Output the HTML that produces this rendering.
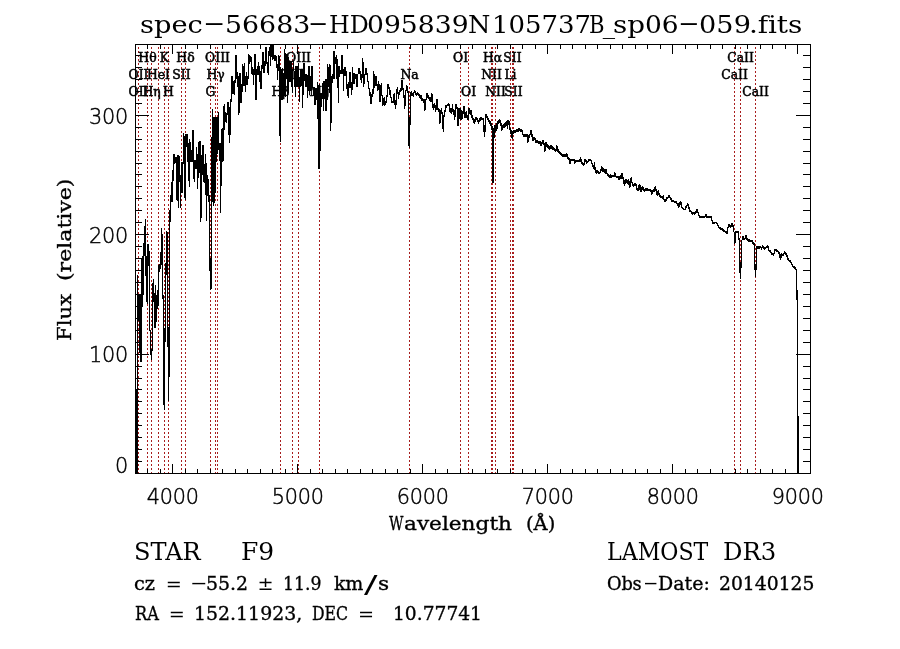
<!DOCTYPE html>
<html lang="en"><head><meta charset="utf-8"><title>spec-56683-HD095839N105737B_sp06-059.fits</title>
<style>
html,body{margin:0;padding:0;background:#fff;}
body{width:900px;height:649px;overflow:hidden;position:relative;}
svg{display:block;position:absolute;left:0;top:0;}
.s{position:absolute;left:0;top:0;white-space:pre;font-family:"DejaVu Serif","Liberation Serif",serif;color:#000;line-height:1;margin:0;padding:0;}
.s span{position:absolute;top:0;transform-origin:0 0;}
.n{font-family:"DejaVu Sans","Liberation Sans",sans-serif;font-weight:200;fill:#000;font-size:20.8px;letter-spacing:-0.2px;stroke:#000;stroke-width:0.45px;}
.l{font-family:"DejaVu Serif","Liberation Serif",serif;font-size:12.4px;fill:#000;text-anchor:middle;stroke:#000;stroke-width:0.5px;}
</style></head><body>
<svg width="900" height="649" viewBox="0 0 900 649">
<path d="M138.5 45V474M147.5 45V474M151.5 45V474M158.5 45V474M164.5 45V474M168.5 45V474M181.5 45V474M185.5 45V474M210.5 45V474M215.5 45V474M217.5 45V474M280.5 45V474M292.5 45V474M298.5 45V474M319.5 45V474M409.5 45V474M460.5 45V474M468.5 45V474M491.5 45V474M492.5 45V474M495.5 45V474M510.5 45V474M512.5 45V474M513.5 45V474M734.5 45V474M740.5 45V474M755.5 45V474" fill="none" stroke="#a81d1d" stroke-width="1" stroke-dasharray="2 2.0104" stroke-dashoffset="1.9104" shape-rendering="crispEdges"/>
<g>
<text class="l" x="138.5" y="96.1">OII</text>
<text class="l" x="138.5" y="78.9">OII</text>
<text class="l" x="147.5" y="61.6">Hθ</text>
<text class="l" x="151.5" y="96.1">Hη</text>
<text class="l" x="158.5" y="78.9">HeI</text>
<text class="l" x="164.5" y="61.6">K</text>
<text class="l" x="168.5" y="96.1">H</text>
<text class="l" x="181.5" y="78.9">SII</text>
<text class="l" x="185.5" y="61.6">Hδ</text>
<text class="l" x="210.5" y="96.1">G</text>
<text class="l" x="215.5" y="78.9">Hγ</text>
<text class="l" x="217.5" y="61.6">OIII</text>
<text class="l" x="280.5" y="96.1">Hβ</text>
<text class="l" x="292.5" y="78.9">OIII</text>
<text class="l" x="298.5" y="61.6">OIII</text>
<text class="l" x="319.5" y="96.1">Mg</text>
<text class="l" x="409.5" y="78.9">Na</text>
<text class="l" x="460.5" y="61.6">OI</text>
<text class="l" x="468.5" y="96.1">OI</text>
<text class="l" x="491.5" y="78.9">NII</text>
<text class="l" x="492.5" y="61.6">Hα</text>
<text class="l" x="495.5" y="96.1">NII</text>
<text class="l" x="510.5" y="78.9">Li</text>
<text class="l" x="512.5" y="61.6">SII</text>
<text class="l" x="513.5" y="96.1">SII</text>
<text class="l" x="734.5" y="78.9">CaII</text>
<text class="l" x="740.5" y="61.6">CaII</text>
<text class="l" x="755.5" y="96.1">CaII</text>
</g>
<path d="M135.5 44.5H810.5V473.5H135.5ZM147.5 473.5v-4.5M147.5 44.5v4.5M160.5 473.5v-4.5M160.5 44.5v4.5M172.5 473.5v-9.5M172.5 44.5v9.5M185.5 473.5v-4.5M185.5 44.5v4.5M197.5 473.5v-4.5M197.5 44.5v4.5M210.5 473.5v-4.5M210.5 44.5v4.5M222.5 473.5v-4.5M222.5 44.5v4.5M235.5 473.5v-4.5M235.5 44.5v4.5M247.5 473.5v-4.5M247.5 44.5v4.5M260.5 473.5v-4.5M260.5 44.5v4.5M272.5 473.5v-4.5M272.5 44.5v4.5M285.5 473.5v-4.5M285.5 44.5v4.5M297.5 473.5v-9.5M297.5 44.5v9.5M310.5 473.5v-4.5M310.5 44.5v4.5M322.5 473.5v-4.5M322.5 44.5v4.5M335.5 473.5v-4.5M335.5 44.5v4.5M347.5 473.5v-4.5M347.5 44.5v4.5M360.5 473.5v-4.5M360.5 44.5v4.5M372.5 473.5v-4.5M372.5 44.5v4.5M385.5 473.5v-4.5M385.5 44.5v4.5M397.5 473.5v-4.5M397.5 44.5v4.5M410.5 473.5v-4.5M410.5 44.5v4.5M422.5 473.5v-9.5M422.5 44.5v9.5M435.5 473.5v-4.5M435.5 44.5v4.5M447.5 473.5v-4.5M447.5 44.5v4.5M460.5 473.5v-4.5M460.5 44.5v4.5M472.5 473.5v-4.5M472.5 44.5v4.5M485.5 473.5v-4.5M485.5 44.5v4.5M497.5 473.5v-4.5M497.5 44.5v4.5M510.5 473.5v-4.5M510.5 44.5v4.5M522.5 473.5v-4.5M522.5 44.5v4.5M535.5 473.5v-4.5M535.5 44.5v4.5M547.5 473.5v-9.5M547.5 44.5v9.5M560.5 473.5v-4.5M560.5 44.5v4.5M572.5 473.5v-4.5M572.5 44.5v4.5M585.5 473.5v-4.5M585.5 44.5v4.5M597.5 473.5v-4.5M597.5 44.5v4.5M610.5 473.5v-4.5M610.5 44.5v4.5M622.5 473.5v-4.5M622.5 44.5v4.5M635.5 473.5v-4.5M635.5 44.5v4.5M647.5 473.5v-4.5M647.5 44.5v4.5M660.5 473.5v-4.5M660.5 44.5v4.5M672.5 473.5v-9.5M672.5 44.5v9.5M685.5 473.5v-4.5M685.5 44.5v4.5M697.5 473.5v-4.5M697.5 44.5v4.5M710.5 473.5v-4.5M710.5 44.5v4.5M722.5 473.5v-4.5M722.5 44.5v4.5M735.5 473.5v-4.5M735.5 44.5v4.5M747.5 473.5v-4.5M747.5 44.5v4.5M760.5 473.5v-4.5M760.5 44.5v4.5M772.5 473.5v-4.5M772.5 44.5v4.5M785.5 473.5v-4.5M785.5 44.5v4.5M797.5 473.5v-9.5M797.5 44.5v9.5M135.5 461.5h6.5M810.5 461.5h-7.5M135.5 449.5h6.5M810.5 449.5h-7.5M135.5 437.5h6.5M810.5 437.5h-7.5M135.5 425.5h6.5M810.5 425.5h-7.5M135.5 413.5h6.5M810.5 413.5h-7.5M135.5 401.5h6.5M810.5 401.5h-7.5M135.5 389.5h6.5M810.5 389.5h-7.5M135.5 378.5h6.5M810.5 378.5h-7.5M135.5 366.5h6.5M810.5 366.5h-7.5M135.5 354.5h13M810.5 354.5h-14.5M135.5 342.5h6.5M810.5 342.5h-7.5M135.5 330.5h6.5M810.5 330.5h-7.5M135.5 318.5h6.5M810.5 318.5h-7.5M135.5 306.5h6.5M810.5 306.5h-7.5M135.5 294.5h6.5M810.5 294.5h-7.5M135.5 282.5h6.5M810.5 282.5h-7.5M135.5 270.5h6.5M810.5 270.5h-7.5M135.5 258.5h6.5M810.5 258.5h-7.5M135.5 246.5h6.5M810.5 246.5h-7.5M135.5 234.5h13M810.5 234.5h-14.5M135.5 222.5h6.5M810.5 222.5h-7.5M135.5 210.5h6.5M810.5 210.5h-7.5M135.5 198.5h6.5M810.5 198.5h-7.5M135.5 186.5h6.5M810.5 186.5h-7.5M135.5 174.5h6.5M810.5 174.5h-7.5M135.5 163.5h6.5M810.5 163.5h-7.5M135.5 151.5h6.5M810.5 151.5h-7.5M135.5 139.5h6.5M810.5 139.5h-7.5M135.5 127.5h6.5M810.5 127.5h-7.5M135.5 115.5h13M810.5 115.5h-14.5M135.5 103.5h6.5M810.5 103.5h-7.5M135.5 91.5h6.5M810.5 91.5h-7.5M135.5 79.5h6.5M810.5 79.5h-7.5M135.5 67.5h6.5M810.5 67.5h-7.5M135.5 55.5h6.5M810.5 55.5h-7.5" fill="none" stroke="#000" stroke-width="1" shape-rendering="crispEdges"/>
<path d="M136.5 390V473M137.5 275V473M138.5 294V321M139.5 295V353M140.5 295V362M141.5 258V362M142.5 256V307M143.5 243V295M144.5 226V256M145.5 219V276M146.5 256V302M147.5 244V304M148.5 244V266M149.5 251V331M150.5 330V355M151.5 349V360M152.5 283V351M153.5 279V302M154.5 293V328M155.5 285V328M156.5 295V322M157.5 290V309M158.5 265V306M159.5 264V272M160.5 252V269M161.5 228V265M162.5 234V299M163.5 295V405M164.5 328V410M165.5 263V342M166.5 231V275M167.5 232V347M168.5 327V401M169.5 210V377M170.5 195V222M171.5 182V202M172.5 170V202M173.5 154V181M174.5 154V164M175.5 157V163M176.5 157V200M177.5 155V201M178.5 155V208M179.5 156V182M180.5 175V208M181.5 162V193M182.5 162V193M183.5 133V164M184.5 136V198M185.5 134V200M186.5 134V147M187.5 134V162M188.5 143V181M189.5 139V187M190.5 142V162M191.5 150V162M192.5 130V162M193.5 130V179M194.5 160V182M195.5 160V169M196.5 147V169M197.5 154V189M198.5 142V178M199.5 141V173M200.5 141V222M201.5 155V218M202.5 145V175M203.5 145V182M204.5 164V183M205.5 154V195M206.5 163V221M207.5 175V196M208.5 179V202M209.5 195V271M210.5 258V290M211.5 137V289M212.5 109V202M213.5 117V206M214.5 117V203M215.5 117V193M216.5 117V162M217.5 117V154M218.5 112V150M219.5 143V161M220.5 143V213M221.5 129V186M222.5 128V162M223.5 106V161M224.5 104V130M225.5 112V122M226.5 113V123M227.5 102V115M228.5 102V135M229.5 107V143M230.5 99V135M231.5 76V102M232.5 76V94M233.5 81V94M234.5 80V95M235.5 55V83M236.5 55V79M237.5 72V87M238.5 76V115M239.5 73V113M240.5 73V103M241.5 84V103M242.5 64V92M243.5 66V86M244.5 63V86M245.5 76V92M246.5 72V85M247.5 76V85M248.5 54V79M249.5 55V64M250.5 56V62M251.5 57V74M252.5 67V75M253.5 69V85M254.5 54V75M255.5 54V100M256.5 69V100M257.5 66V75M258.5 62V75M259.5 66V82M260.5 71V89M261.5 65V89M262.5 52V69M263.5 52V73M264.5 61V73M265.5 47V66M266.5 47V64M267.5 62V73M268.5 51V75M269.5 47V56M270.5 45V66M271.5 45V57M272.5 45V60M273.5 45V59M274.5 55V61M275.5 55V61M276.5 56V68M277.5 64V80M278.5 55V71M279.5 56V136M280.5 67V142M281.5 69V100M282.5 68V100M283.5 73V96M284.5 49V96M285.5 53V97M286.5 54V79M287.5 54V103M288.5 57V93M289.5 61V82M290.5 61V82M291.5 61V87M292.5 69V93M293.5 61V71M294.5 71V87M295.5 66V97M296.5 66V87M297.5 66V87M298.5 63V87M299.5 77V102M300.5 69V87M301.5 69V86M302.5 69V108M303.5 63V95M304.5 63V81M305.5 74V87M306.5 74V87M307.5 75V98M308.5 66V91M309.5 66V95M310.5 76V91M311.5 66V91M312.5 66V88M313.5 87V96M314.5 87V105M315.5 88V105M316.5 88V100M317.5 82V119M318.5 85V169M319.5 84V169M320.5 93V151M321.5 93V107M322.5 83V99M323.5 81V111M324.5 81V99M325.5 79V111M326.5 79V111M327.5 64V100M328.5 67V87M329.5 64V93M330.5 65V131M331.5 76V123M332.5 74V83M333.5 51V79M334.5 51V79M335.5 57V64M336.5 55V79M337.5 59V88M338.5 66V103M339.5 66V77M340.5 70V74M341.5 55V74M342.5 55V74M343.5 69V91M344.5 67V76M345.5 67V76M346.5 71V89M347.5 84V96M348.5 82V98M349.5 72V88M350.5 72V88M351.5 82V95M352.5 67V90M353.5 73V84M354.5 73V84M355.5 74V79M356.5 74V87M357.5 74V87M358.5 68V74M359.5 68V74M360.5 71V80M361.5 74V83M362.5 58V78M363.5 62V87M364.5 74V84M365.5 68V75M366.5 68V75M367.5 73V82M368.5 81V89M369.5 88V96M370.5 92V104M371.5 94V104M372.5 89V97M373.5 71V94M374.5 74V88M375.5 76V86M376.5 76V86M377.5 84V91M378.5 81V90M379.5 84V102M380.5 85V102M381.5 83V96M382.5 95V106M383.5 98V105M384.5 97V106M385.5 101V105M386.5 95V103M387.5 84V97M388.5 84V89M389.5 87V95M390.5 90V98M391.5 97V103M392.5 101V103M393.5 94V103M394.5 93V105M395.5 100V109M396.5 89V105M397.5 87V94M398.5 92V99M399.5 90V95M400.5 88V92M401.5 80V91M402.5 80V90M403.5 88V98M404.5 95V109M405.5 90V106M406.5 85V91M407.5 86V93M408.5 91V146M409.5 117V148M410.5 92V125M411.5 91V96M412.5 93V96M413.5 92V97M414.5 90V93M415.5 91V95M416.5 93V96M417.5 92V95M418.5 93V96M419.5 94V98M420.5 95V99M421.5 95V101M422.5 98V101M423.5 99V103M424.5 99V111M425.5 99V110M426.5 93V100M427.5 93V98M428.5 95V99M429.5 97V101M430.5 97V102M431.5 93V102M432.5 94V108M433.5 104V110M434.5 103V108M435.5 105V112M436.5 99V110M437.5 99V110M438.5 108V112M439.5 109V124M440.5 110V123M441.5 108V114M442.5 112V129M443.5 115V132M444.5 110V117M445.5 105V112M446.5 105V108M447.5 104V106M448.5 103V106M449.5 104V112M450.5 108V113M451.5 108V114M452.5 104V112M453.5 109V115M454.5 110V120M455.5 104V117M456.5 104V109M457.5 107V126M458.5 108V126M459.5 108V119M460.5 108V120M461.5 110V120M462.5 111V119M463.5 106V114M464.5 106V118M465.5 112V118M466.5 111V118M467.5 115V120M468.5 108V120M469.5 108V114M470.5 110V115M471.5 110V118M472.5 115V120M473.5 118V123M474.5 119V124M475.5 117V122M476.5 117V120M477.5 118V122M478.5 120V124M479.5 118V122M480.5 117V121M481.5 117V120M482.5 118V120M483.5 118V132M484.5 125V137M485.5 114V132M486.5 114V118M487.5 116V120M488.5 118V122M489.5 120V124M490.5 121V126M491.5 123V130M492.5 126V183M493.5 128V183M494.5 125V138M495.5 125V132M496.5 123V131M497.5 121V129M498.5 120V124M499.5 119V123M500.5 120V126M501.5 123V131M502.5 125V130M503.5 124V128M504.5 123V128M505.5 122V127M506.5 121V126M507.5 120V129M508.5 120V125M509.5 121V130M510.5 128V134M511.5 130V138M512.5 131V139M513.5 130V134M514.5 130V133M515.5 130V133M516.5 129V132M517.5 129V132M518.5 128V132M519.5 128V131M520.5 129V132M521.5 129V132M522.5 130V135M523.5 134V137M524.5 134V137M525.5 134V137M526.5 134V137M527.5 134V143M528.5 135V142M529.5 134V138M530.5 130V135M531.5 130V137M532.5 134V141M533.5 137V141M534.5 137V140M535.5 138V143M536.5 140V143M537.5 140V143M538.5 141V144M539.5 141V144M540.5 141V146M541.5 142V146M542.5 140V144M543.5 140V145M544.5 143V152M545.5 142V151M546.5 142V147M547.5 144V148M548.5 145V149M549.5 146V150M550.5 145V149M551.5 145V149M552.5 146V150M553.5 147V150M554.5 148V151M555.5 149V152M556.5 145V151M557.5 146V152M558.5 149V153M559.5 151V154M560.5 152V155M561.5 153V156M562.5 154V157M563.5 154V157M564.5 154V157M565.5 154V157M566.5 153V157M567.5 154V159M568.5 157V160M569.5 158V164M570.5 159V164M571.5 159V161M572.5 159V161M573.5 159V161M574.5 159V164M575.5 160V163M576.5 160V162M577.5 160V162M578.5 160V162M579.5 159V162M580.5 157V162M581.5 159V164M582.5 162V165M583.5 163V166M584.5 159V165M585.5 159V162M586.5 160V164M587.5 161V163M588.5 159V162M589.5 159V161M590.5 159V161M591.5 160V164M592.5 163V167M593.5 165V169M594.5 162V170M595.5 167V173M596.5 170V174M597.5 170V173M598.5 171V174M599.5 172V174M600.5 169V173M601.5 166V171M602.5 167V172M603.5 168V172M604.5 169V173M605.5 169V174M606.5 169V174M607.5 173V176M608.5 174V177M609.5 175V178M610.5 174V178M611.5 175V178M612.5 175V177M613.5 175V177M614.5 172V177M615.5 173V177M616.5 176V178M617.5 176V178M618.5 176V180M619.5 176V180M620.5 175V179M621.5 173V179M622.5 173V179M623.5 177V184M624.5 180V186M625.5 179V184M626.5 179V183M627.5 180V184M628.5 179V185M629.5 181V188M630.5 178V187M631.5 177V183M632.5 182V186M633.5 184V187M634.5 183V186M635.5 183V186M636.5 184V190M637.5 188V191M638.5 185V191M639.5 184V190M640.5 185V192M641.5 187V192M642.5 186V190M643.5 187V191M644.5 189V192M645.5 188V191M646.5 188V191M647.5 188V191M648.5 189V191M649.5 189V191M650.5 189V192M651.5 190V195M652.5 190V194M653.5 189V192M654.5 187V192M655.5 186V191M656.5 189V195M657.5 191V196M658.5 190V195M659.5 193V197M660.5 195V198M661.5 196V198M662.5 196V199M663.5 195V200M664.5 199V202M665.5 199V202M666.5 197V201M667.5 197V199M668.5 195V198M669.5 195V198M670.5 197V200M671.5 198V202M672.5 200V202M673.5 200V202M674.5 201V203M675.5 201V203M676.5 201V204M677.5 203V206M678.5 203V208M679.5 202V207M680.5 201V205M681.5 202V208M682.5 207V209M683.5 208V210M684.5 209V210M685.5 206V210M686.5 205V208M687.5 203V206M688.5 204V209M689.5 207V212M690.5 210V212M691.5 211V214M692.5 212V215M693.5 212V214M694.5 212V215M695.5 211V214M696.5 209V213M697.5 209V213M698.5 212V216M699.5 215V218M700.5 216V218M701.5 216V218M702.5 216V218M703.5 216V218M704.5 216V218M705.5 214V217M706.5 214V218M707.5 216V218M708.5 216V218M709.5 216V218M710.5 216V218M711.5 216V221M712.5 220V224M713.5 222V224M714.5 222V224M715.5 222V223M716.5 222V224M717.5 223V226M718.5 225V228M719.5 227V229M720.5 227V230M721.5 228V230M722.5 228V231M723.5 229V232M724.5 230V232M725.5 231V233M726.5 231V234M727.5 227V234M728.5 224V228M729.5 224V227M730.5 225V228M731.5 223V227M732.5 223V227M733.5 225V232M734.5 232V244M735.5 231V243M736.5 231V233M737.5 231V233M738.5 231V240M739.5 238V273M740.5 262V279M741.5 240V268M742.5 236V240M743.5 236V240M744.5 238V240M745.5 235V239M746.5 235V240M747.5 238V241M748.5 239V242M749.5 239V242M750.5 240V242M751.5 240V242M752.5 240V244M753.5 242V245M754.5 243V270M755.5 264V277M756.5 246V270M757.5 246V249M758.5 246V249M759.5 246V249M760.5 246V248M761.5 247V250M762.5 245V248M763.5 246V249M764.5 247V250M765.5 247V249M766.5 246V248M767.5 245V248M768.5 246V251M769.5 250V252M770.5 250V253M771.5 252V255M772.5 253V255M773.5 253V256M774.5 249V254M775.5 249V251M776.5 249V252M777.5 250V252M778.5 251V254M779.5 252V258M780.5 254V260M781.5 253V258M782.5 254V256M783.5 253V256M784.5 251V254M785.5 252V255M786.5 253V257M787.5 255V260M788.5 258V261M789.5 260V262M790.5 260V263M791.5 262V265M792.5 264V267M793.5 266V268M794.5 266V269M795.5 267V270M796.5 269V300M797.5 290V474M798.5 416V474" fill="none" stroke="#000" stroke-width="1" shape-rendering="crispEdges"/>
<text class="n" x="172.75" y="503.9" text-anchor="middle">4000</text>
<text class="n" x="297.75" y="503.9" text-anchor="middle">5000</text>
<text class="n" x="422.75" y="503.9" text-anchor="middle">6000</text>
<text class="n" x="547.75" y="503.9" text-anchor="middle">7000</text>
<text class="n" x="672.75" y="503.9" text-anchor="middle">8000</text>
<text class="n" x="797.75" y="503.9" text-anchor="middle">9000</text>
<text class="n" x="128" y="473" text-anchor="end">0</text>
<text class="n" x="128" y="362.3" text-anchor="end">100</text>
<text class="n" x="128" y="243.2" text-anchor="end">200</text>
<text class="n" x="128" y="123.7" text-anchor="end">300</text>
</svg>
<div class="s" id="title" style="left:0.00px;top:13.00px;font-size:24.6px;"><span style="left:140.17px;transform:scaleX(1.109);">spec</span><span style="left:202.50px;top:-1.70px;transform:scaleX(2.690);-webkit-text-stroke:0;">-</span><span style="left:224.70px;transform:scaleX(1.090);">56683</span><span style="left:308.36px;top:-1.70px;transform:scaleX(2.446);-webkit-text-stroke:0;">-</span><span style="left:328.67px;transform:scaleX(0.966);">HD</span><span style="left:367.18px;transform:scaleX(1.082);">095839</span><span style="left:467.73px;transform:scaleX(1.041);">N</span><span style="left:491.77px;transform:scaleX(1.056);">105737</span><span style="left:588.81px;transform:scaleX(0.860);">B</span><span style="left:602.83px;-webkit-text-stroke:0;">_</span><span style="left:613.44px;letter-spacing:-0.062px;transform:scaleX(1.130);">sp</span><span style="left:645.20px;letter-spacing:-0.109px;transform:scaleX(1.075);">06</span><span style="left:678.18px;top:-1.70px;transform:scaleX(2.609);-webkit-text-stroke:0;">-</span><span style="left:699.00px;letter-spacing:0.064px;transform:scaleX(1.103);">059</span><span style="left:749.32px;letter-spacing:-0.109px;transform:scaleX(1.137);">.fits</span></div>
<div class="s" id="xlab" style="left:0.00px;top:513.50px;font-size:19.0px;-webkit-text-stroke:0.35px #000;"><span style="left:389.44px;transform:scaleX(0.737);">W</span><span style="left:404.36px;transform:scaleX(1.138);">avelength</span> <span style="left:525.63px;transform:scaleX(1.025);">(Å)</span></div>
<div class="s" id="ylab" style="left:55.00px;top:340.30px;font-size:19.0px;transform-origin:0 0;transform:rotate(-90deg);-webkit-text-stroke:0.35px #000;"><span style="left:-1.06px;transform:scaleX(1.118);">Flux</span> <span style="left:58.53px;transform:scaleX(1.161);">(relative)</span></div>
<div class="s" id="star" style="left:0.00px;top:539.70px;font-size:24.6px;"><span style="left:133.51px;transform:scaleX(0.979);">STAR</span>    <span style="left:240.81px;transform:scaleX(1.014);">F9</span></div>
<div class="s" id="cz" style="left:0.00px;top:574.00px;font-size:19.2px;-webkit-text-stroke:0.35px #000;"><span style="left:134.47px;letter-spacing:-0.124px;transform:scaleX(1.010);">cz</span> <span style="left:165.73px;top:1.00px;-webkit-text-stroke:0;">=</span> <span style="left:190.20px;top:-1.00px;transform:scaleX(2.704);-webkit-text-stroke:0;">-</span><span style="left:206.10px;transform:scaleX(0.986);">55.2</span> <span style="left:257.48px;-webkit-text-stroke:0;">±</span> <span style="left:283.49px;transform:scaleX(0.900);">11.9</span> <span style="left:334.01px;letter-spacing:-0.237px;transform:scaleX(0.992);">km</span><span style="left:364.33px;top:-2.50px;transform:scale(2.092,1.300);-webkit-text-stroke:0;">/</span><span style="left:377.89px;transform:scaleX(1.131);">s</span></div>
<div class="s" id="ra" style="left:0.00px;top:604.00px;font-size:19.2px;-webkit-text-stroke:0.35px #000;"><span style="left:134.53px;transform:scaleX(0.842);">RA</span> <span style="left:168.73px;top:1.00px;-webkit-text-stroke:0;">=</span> <span style="left:194.49px;transform:scaleX(0.985);">152.11923,</span> <span style="left:312.36px;transform:scaleX(0.819);">DEC</span> <span style="left:357.98px;top:1.00px;-webkit-text-stroke:0;">=</span>  <span style="left:393.40px;transform:scaleX(0.972);">10.77741</span></div>
<div class="s" id="lam" style="left:0.00px;top:540.00px;font-size:24.6px;"><span style="left:606.76px;transform:scaleX(0.899);">LAMOST</span> <span style="left:722.64px;transform:scaleX(0.988);">DR3</span></div>
<div class="s" id="obs" style="left:0.00px;top:574.00px;font-size:19.2px;-webkit-text-stroke:0.35px #000;"><span style="left:606.99px;letter-spacing:-0.193px;transform:scaleX(0.926);">Obs</span><span style="left:643.00px;top:-1.00px;transform:scaleX(2.379);-webkit-text-stroke:0;">-</span><span style="left:657.98px;transform:scaleX(0.989);">Date:</span> <span style="left:718.85px;transform:scaleX(0.977);">20140125</span></div>
</body></html>
